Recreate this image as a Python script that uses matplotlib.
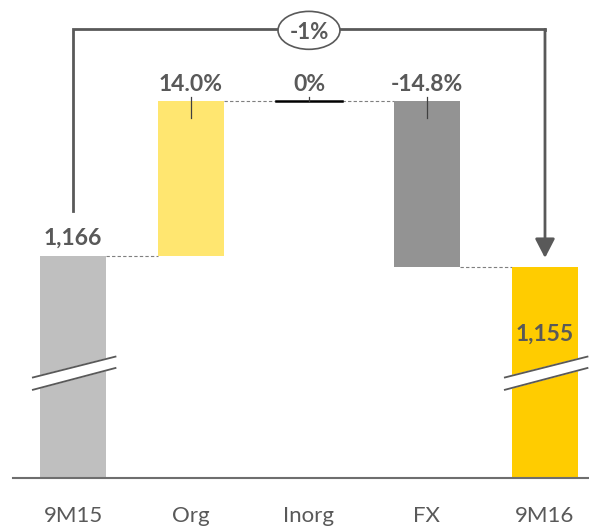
import matplotlib
matplotlib.use("Agg")
import matplotlib.pyplot as plt
from matplotlib.patches import Ellipse, Polygon

plt.rcParams['font.family'] = ['Lato', 'DejaVu Sans']

# data
categories = ["9M15", "Org", "Inorg", "FX", "9M16"]
start_value = 1166
end_value = 1155
change_pct = [14.0, 0.0, -14.8]
change_labels = ["14.0%", "0%", "-14.8%"]
total_label = "-1%"

org_delta = start_value * change_pct[0] / 100
inorg_delta = 0.0
fx_delta = end_value - start_value - org_delta - inorg_delta

TXT = "#595959"
LINE = "#595959"
colors = ["#BFBFBF", "#FFE670", "#000000", "#939393", "#FFCC00"]

fig = plt.figure(figsize=(5.89, 5.32), dpi=100)
ax = fig.add_axes([13 / 589, 54 / 532, 576 / 589, 478 / 532])
ymin, ymax = 932, 1436
ax.set_xlim(-0.5085, 4.373)
ax.set_ylim(ymin, ymax)
w = 0.56

# bars
lvl1 = start_value + org_delta
lvl2 = lvl1 + inorg_delta
lvl3 = lvl2 + fx_delta
ax.bar(0, start_value - ymin, bottom=ymin, width=w, color=colors[0], zorder=2)
ax.bar(1, org_delta, bottom=start_value, width=w, color=colors[1], zorder=2)
ax.plot([2 - w / 2, 2 + w / 2], [lvl2, lvl2], color=colors[2], lw=1.8, zorder=3)
ax.bar(3, fx_delta, bottom=lvl2, width=w, color=colors[3], zorder=2)
ax.bar(4, end_value - ymin, bottom=ymin, width=w, color=colors[4], zorder=2)

# dashed connectors
dash = dict(color="#7F7F7F", lw=0.8, ls=(0, (3, 2)), zorder=1)
ax.plot([0 + w / 2, 1 - w / 2], [start_value, start_value], **dash)
ax.plot([1 + w / 2, 2 - w / 2], [lvl1, lvl1], **dash)
ax.plot([2 + w / 2, 3 - w / 2], [lvl2, lvl2], **dash)
ax.plot([3 + w / 2, 4 - w / 2], [lvl3, lvl3], **dash)

# leader ticks + change labels
tops = [lvl1, lvl2, lvl2]
for i, (lab, top) in enumerate(zip(change_labels, tops)):
    x = i + 1
    lo = top if i == 1 else top - 18
    ax.plot([x, x], [top + 4, lo], color="#404040", lw=0.9, zorder=4)
    ax.text(x, top + 11, lab, ha="center", va="baseline", fontsize=16.5,
            fontweight="bold", color=TXT)

ax.text(0, start_value + 12, f"{start_value:,}", ha="center", va="baseline",
        fontsize=16.5, fontweight="bold", color=TXT)
ax.text(4, 1077, f"{end_value:,}", ha="center", va="baseline",
        fontsize=16.5, fontweight="bold", color=TXT)

# axis break marks
for x in (0, 4):
    xl, xr = x - 0.34, x + 0.36
    ax.add_patch(Polygon([(xl, 1038), (xr, 1060), (xr, 1048), (xl, 1025)],
                         closed=True, color="white", zorder=5))
    ax.plot([xl, xr], [1038, 1060], color=LINE, lw=1.3, zorder=6)
    ax.plot([xl, xr], [1025, 1048], color=LINE, lw=1.3, zorder=6)

# bracket with arrow
br_y = 1405
ax.plot([0, 0, 4, 4], [1213, br_y, br_y, br_y - 1], color=LINE, lw=2,
        solid_joinstyle="miter", zorder=3)
ax.annotate("", xy=(4, end_value + 9), xytext=(4, br_y),
            arrowprops=dict(arrowstyle="-|>,head_length=0.58,head_width=0.3",
                            mutation_scale=20, lw=2, color=LINE,
                            shrinkA=0, shrinkB=0), zorder=3)
ax.add_patch(Ellipse((2.0, br_y - 1), 0.525, 40, facecolor="white",
                     edgecolor=LINE, lw=1.2, zorder=7))
ax.text(2.0, br_y - 1, total_label, ha="center", va="center_baseline",
        fontsize=16, fontweight="bold", color=TXT, zorder=8)

# axes styling
for s in ("top", "right", "left"):
    ax.spines[s].set_visible(False)
ax.spines["bottom"].set_color("#6E6E6E")
ax.spines["bottom"].set_linewidth(1.5)
ax.set_yticks([])
ax.set_xticks(range(len(categories)))
ax.set_xticklabels(categories, fontsize=16, color=TXT)
ax.tick_params(axis="x", length=0, pad=20)

fig.savefig("out.png", dpi=100)
